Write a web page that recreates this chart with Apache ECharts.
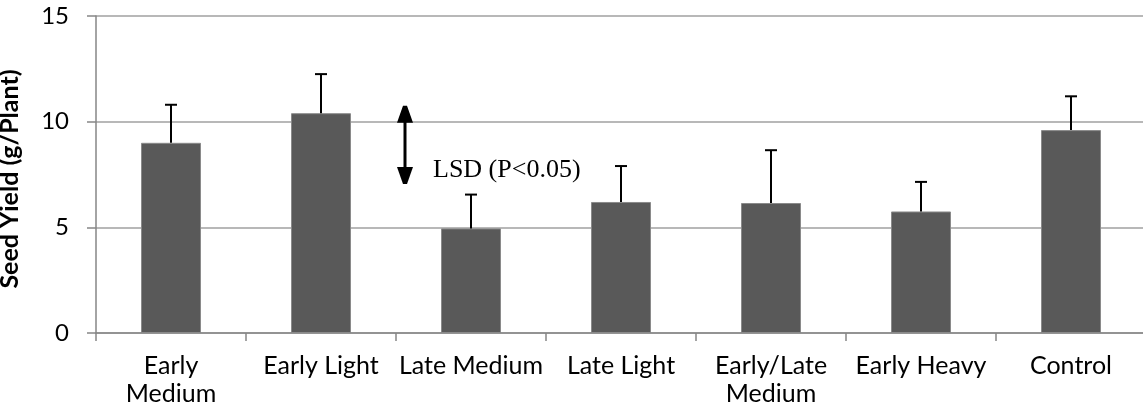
<!DOCTYPE html>
<html>
<head>
<meta charset="utf-8">
<script src="https://cdn.jsdelivr.net/npm/echarts@6/dist/echarts.min.js"></script>
<style>
  html, body { margin: 0; padding: 0; background: #ffffff; }
  #chart { width: 1143px; height: 416px; }
</style>
</head>
<body>
<div id="chart"></div>
<script>
// Seed yield per treatment, with the upper error bar length
const categories = ['Early\nMedium', 'Early Light', 'Late Medium', 'Late Light', 'Early/Late\nMedium', 'Early Heavy', 'Control'];
const seedYield = [9.0, 10.4, 4.95, 6.2, 6.15, 5.75, 9.6];
const yieldError = [1.8, 1.85, 1.6, 1.7, 2.5, 1.4, 1.6];
const yTicks = [0, 5, 10, 15];

// Least significant difference marker, drawn beside the "Early Light" bar
const lsdCategory = 1;
const lsdRange = [7.1, 10.7];
const lsdLabel = 'LSD (P<0.05)';

const labelFont = 'Lato';

const chart = echarts.init(document.getElementById('chart'), null, { renderer: 'canvas' });

function renderErrorBar(params, api) {
  const i = api.value(0);
  const mean = api.value(1);
  const err = api.value(2);
  const base = api.coord([i, mean]);
  const top = api.coord([i, mean + err]);
  const half = 6;
  const style = { stroke: '#000000', lineWidth: 2 };
  return {
    type: 'group',
    children: [
      { type: 'line', shape: { x1: base[0], y1: base[1], x2: top[0], y2: top[1] }, style },
      { type: 'line', shape: { x1: top[0] - half, y1: top[1], x2: top[0] + half, y2: top[1] }, style }
    ]
  };
}

function renderLsd(params, api) {
  const i = api.value(0);
  const lo = api.coord([i, api.value(1)]);
  const hi = api.coord([i, api.value(2)]);
  const x = lo[0] + api.size([1, 0])[0] * 0.56;
  const yTop = hi[1];
  const yBot = lo[1];
  const w = 8, h = 16;
  return {
    type: 'group',
    children: [
      { type: 'line', shape: { x1: x, y1: yTop + 6, x2: x, y2: yBot - 6 }, style: { stroke: '#000000', lineWidth: 3 } },
      { type: 'polygon', shape: { points: [[x - 2, yTop - 1], [x + 2, yTop - 1], [x + w, yTop + h], [x - w, yTop + h]] }, style: { fill: '#000000' } },
      { type: 'polygon', shape: { points: [[x - w, yBot - h], [x + w, yBot - h], [x + 2, yBot + 1], [x - 2, yBot + 1]] }, style: { fill: '#000000' } },
      {
        type: 'text',
        x: x + 28,
        y: yTop + 50,
        style: { text: lsdLabel, font: '26px "Liberation Serif"', fill: '#000000', textBaseline: 'alphabetic', textAlign: 'left' }
      }
    ]
  };
}

chart.setOption({
  animation: false,
  backgroundColor: '#ffffff',
  grid: { left: 96, top: 16, width: 1050, height: 317, outerBoundsMode: 'none' },
  xAxis: {
    type: 'category',
    data: categories,
    axisLine: { lineStyle: { color: '#868686', width: 1.5 } },
    axisTick: { show: true, length: 8, lineStyle: { color: '#868686', width: 1.5 } },
    axisLabel: { color: '#000000', fontFamily: labelFont, fontSize: 25, lineHeight: 28, margin: 19, interval: 0 },
    splitLine: { show: false }
  },
  yAxis: {
    type: 'value',
    min: yTicks[0],
    max: yTicks[yTicks.length - 1],
    interval: 5,
    name: 'Seed Yield (g/Plant)',
    nameLocation: 'middle',
    nameGap: 74,
    nameTextStyle: { color: '#000000', fontFamily: labelFont, fontSize: 25, fontWeight: 'bold', padding: [0, 9, 0, 0] },
    axisLine: { show: true, lineStyle: { color: '#868686', width: 1.5 } },
    axisTick: { show: true, length: 9, lineStyle: { color: '#868686', width: 1.5 } },
    axisLabel: { color: '#000000', fontFamily: labelFont, fontSize: 24, margin: 27 },
    splitLine: { show: true, lineStyle: { color: '#a0a0a0', width: 1.5 } }
  },
  series: [
    {
      type: 'bar',
      data: seedYield,
      barWidth: 60,
      itemStyle: { color: '#595959', borderColor: '#8a8a8a', borderWidth: 1 },
      z: 2
    },
    {
      type: 'custom',
      renderItem: renderErrorBar,
      data: categories.map((c, i) => [i, seedYield[i], yieldError[i]]),
      z: 3
    },
    {
      type: 'custom',
      renderItem: renderLsd,
      data: [[lsdCategory, lsdRange[0], lsdRange[1]]],
      z: 4
    }
  ]
});
</script>
</body>
</html>
